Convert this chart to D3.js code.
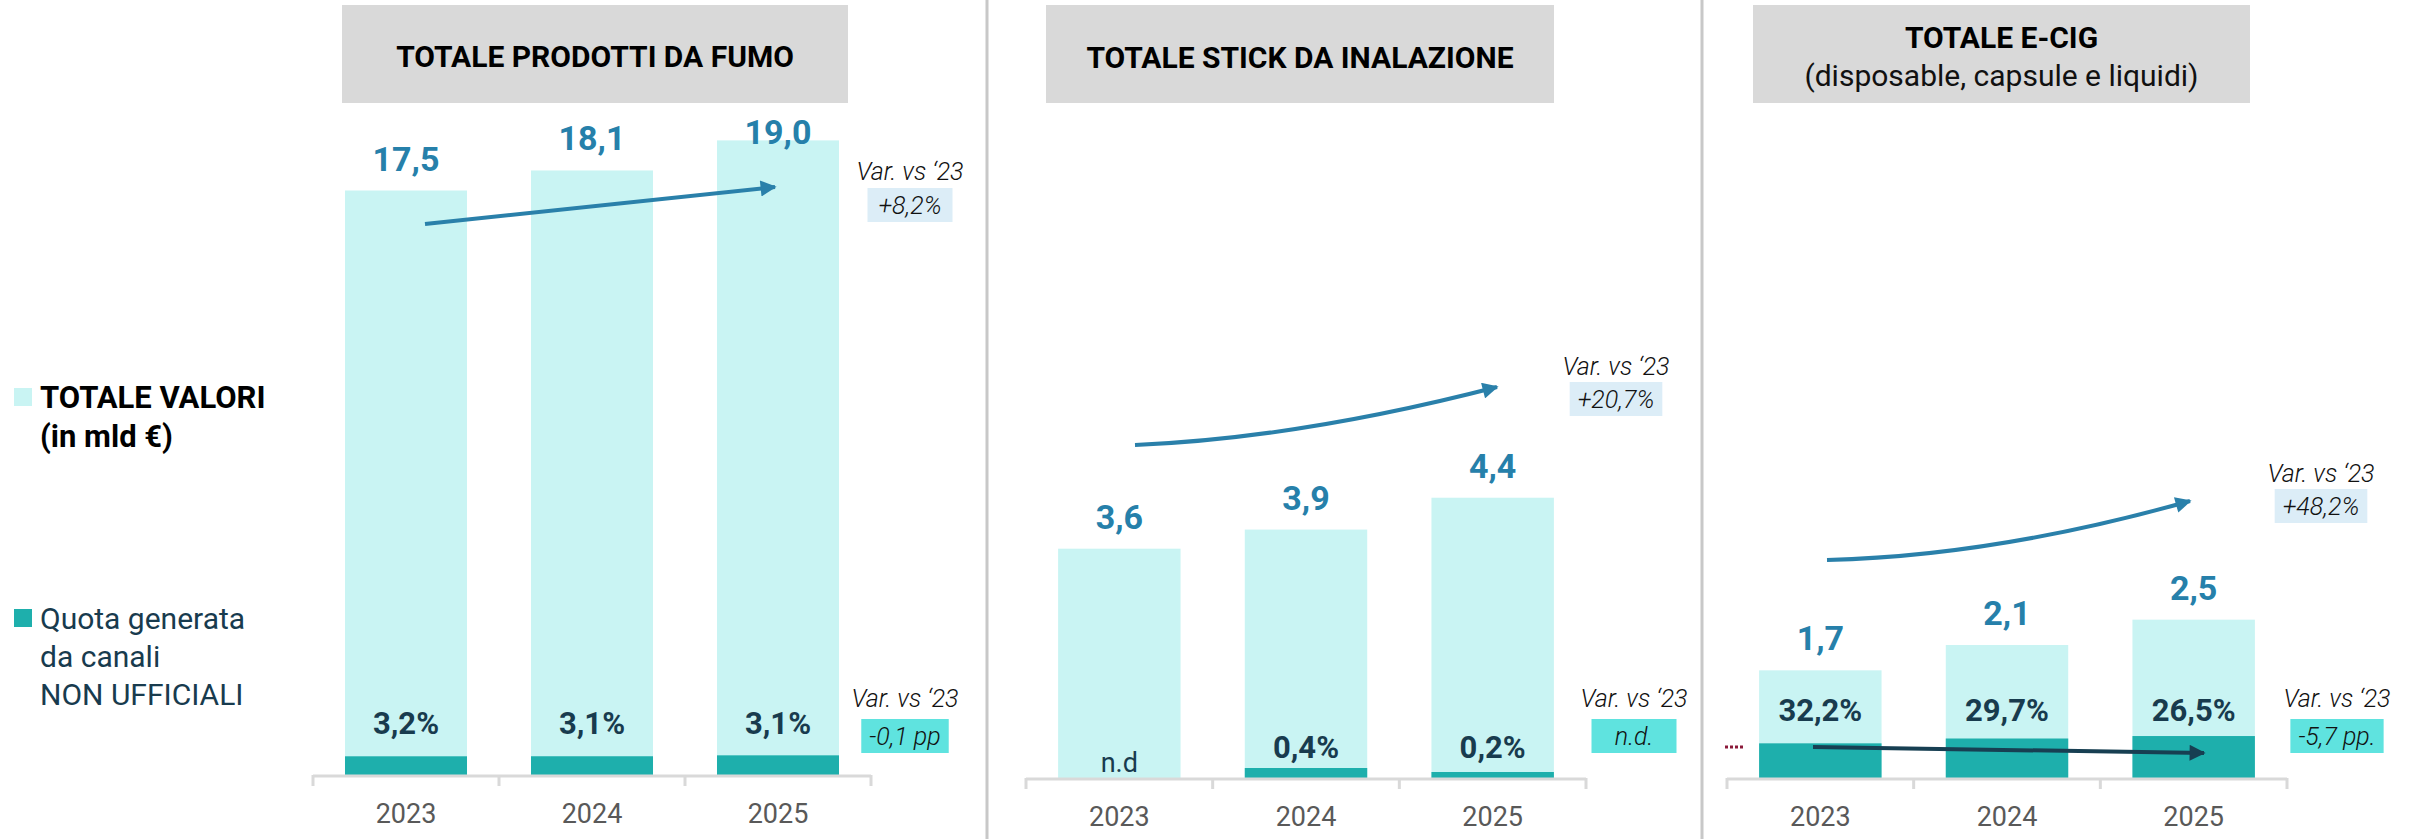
<!DOCTYPE html>
<html><head><meta charset="utf-8">
<script src="https://cdn.jsdelivr.net/npm/d3@7"></script>
<style>
html,body{margin:0;padding:0;background:#fff;}
svg{display:block;font-family:Roboto,"Noto Sans",sans-serif;}
</style></head><body>
<svg id="chart" width="2418" height="839"></svg>
<script>
// ---------------- DATA ----------------
const years = ["2023", "2024", "2025"];
const panelTitles = ["TOTALE PRODOTTI DA FUMO", "TOTALE STICK DA INALAZIONE", "TOTALE E-CIG"];
const panelSubtitles = ["", "", "(disposable, capsule e liquidi)"];
const smokeTotals = [17.5, 18.1, 19.0];
const smokeShares = [3.2, 3.1, 3.1];
const stickTotals = [3.6, 3.9, 4.4];
const stickShares = [null, 0.4, 0.2];
const ecigTotals = [1.7, 2.1, 2.5];
const ecigShares = [32.2, 29.7, 26.5];
const totalVarLabels = ["+8,2%", "+20,7%", "+48,2%"];
const shareVarLabels = ["-0,1 pp", "n.d.", "-5,7 pp."];
const varCaption = "Var. vs \u201823";
const notAvailable = "n.d";
const legendTotal = ["TOTALE VALORI", "(in mld \u20ac)"];
const legendShare = ["Quota generata", "da canali", "NON UFFICIALI"];

// ---------------- STYLE / LAYOUT ----------------
const C = {
  light: "#c9f4f3", dark: "#1eafac", value: "#2680aa", pct: "#183b4e",
  arrow: "#2a80aa", darkArrow: "#173f52", titleBox: "#d9d9d9",
  varLight: "#dcedf7", varTeal: "#5fe3df", axis: "#d9d9d9", year: "#595959", sep: "#c8c8c8"
};
const itLocale = d3.formatLocale({decimal: ",", thousands: ".", grouping: [3], currency: ["\u20ac", ""]});
const fmt1 = itLocale.format(".1f");

const panels = [
  { totals: smokeTotals, shares: smokeShares, xRange: [313, 871], base: 775, yDomain: [0, 20], yRange: [775, 107],
    titleBox: [342, 5, 506, 98], titleY: 67, pctY: 734, labelMinY: 144,
    arrow: {p0: [425, 224], p2: [775, 187]},
    topVar: {cx: 910, capY: 180, boxY: 188}, botVar: {cx: 905, capY: 707, boxY: 719, fill: C.varTeal} },
  { totals: stickTotals, shares: stickShares, xRange: [1026, 1586], base: 778, yDomain: [0, 5], yRange: [778, 459.5],
    titleBox: [1046, 5, 508, 98], titleY: 68, pctY: 758, labelMinY: 0,
    shareScale: d3.scaleLinear().domain([0, 0.4]).range([2, 10]),
    arrow: {p0: [1135, 445], p1: [1300, 438], p2: [1497, 387]},
    topVar: {cx: 1616, capY: 375, boxY: 382}, botVar: {cx: 1634, capY: 707, boxY: 719, fill: C.varTeal} },
  { totals: ecigTotals, shares: ecigShares, xRange: [1727, 2287], base: 778, yDomain: [0, 3], yRange: [778, 588],
    titleBox: [1753, 5, 497, 98], titleY: 48, subY: 86, pctY: 721, labelMinY: 0,
    arrow: {p0: [1827, 560], p1: [1995, 556], p2: [2190, 501]},
    darkArrow: {p0: [1813, 747], p2: [2204, 753]},
    topVar: {cx: 2321, capY: 482, boxY: 489}, botVar: {cx: 2337, capY: 707, boxY: 719, fill: C.varTeal} }
];

const svg = d3.select("#chart");
const defs = svg.append("defs");
function marker(id, color) {
  defs.append("marker").attr("id", id).attr("viewBox", "0 0 10 10")
    .attr("refX", 9).attr("refY", 5).attr("markerUnits", "userSpaceOnUse")
    .attr("markerWidth", 19).attr("markerHeight", 16).attr("orient", "auto")
    .append("path").attr("d", "M0,0 L10,5 L0,10 z").attr("fill", color);
}
marker("ahBlue", C.arrow);
marker("ahDark", C.darkArrow);

// separators
[987, 1702].forEach(x => svg.append("line").attr("x1", x).attr("x2", x).attr("y1", 0).attr("y2", 839)
  .attr("stroke", C.sep).attr("stroke-width", 3));

// legend
const lg = svg.append("g");
lg.append("rect").attr("x", 14).attr("y", 388).attr("width", 18).attr("height", 18).attr("fill", C.light);
legendTotal.forEach((t, i) => lg.append("text").attr("x", 40).attr("y", 408 + i * 39)
  .attr("font-size", 31).attr("font-weight", 700).attr("fill", "#000").text(t));
lg.append("rect").attr("x", 14).attr("y", 609).attr("width", 18).attr("height", 18).attr("fill", C.dark);
legendShare.forEach((t, i) => lg.append("text").attr("x", 40).attr("y", 629 + i * 38)
  .attr("font-size", 30).attr("font-weight", 400).attr("fill", C.pct).text(t));

panels.forEach((P, pi) => {
  const g = svg.append("g");
  const x = d3.scaleBand().domain(years).range(P.xRange).paddingInner(0.344).paddingOuter(0.172);
  const y = d3.scaleLinear().domain(P.yDomain).range(P.yRange);
  const rows = years.map((yr, i) => ({year: yr, total: P.totals[i], share: P.shares[i]}));

  // title box
  const [bx, by, bw, bh] = P.titleBox;
  g.append("rect").attr("x", bx).attr("y", by).attr("width", bw).attr("height", bh).attr("fill", C.titleBox);
  g.append("text").attr("x", bx + bw / 2).attr("y", P.titleY).attr("text-anchor", "middle")
    .attr("font-size", 30).attr("font-weight", 700).attr("fill", "#000").text(panelTitles[pi]);
  if (panelSubtitles[pi]) g.append("text").attr("x", bx + bw / 2).attr("y", P.subY).attr("text-anchor", "middle")
    .attr("font-size", 30).attr("font-weight", 400).attr("fill", "#111").text(panelSubtitles[pi]);

  // light bars (total)
  g.selectAll(".tot").data(rows).join("rect")
    .attr("x", d => x(d.year)).attr("width", x.bandwidth())
    .attr("y", d => y(d.total)).attr("height", d => y(0) - y(d.total)).attr("fill", C.light);

  // dark segments (share of non-official channels)
  g.selectAll(".shr").data(rows.filter(d => d.share != null)).join("rect")
    .attr("x", d => x(d.year)).attr("width", x.bandwidth())
    .attr("y", d => P.shareScale ? y(0) - P.shareScale(d.share) : y(d.total * d.share / 100))
    .attr("height", d => P.shareScale ? P.shareScale(d.share) : y(0) - y(d.total * d.share / 100))
    .attr("fill", C.dark);

  // axis
  const x0 = P.xRange[0], x1 = P.xRange[1];
  g.append("line").attr("x1", x0).attr("x2", x1).attr("y1", P.base + 1).attr("y2", P.base + 1)
    .attr("stroke", C.axis).attr("stroke-width", 3);
  d3.range(years.length + 1).forEach(i => {
    const tx = x0 + i * x.step();
    g.append("line").attr("x1", tx).attr("x2", tx).attr("y1", P.base).attr("y2", P.base + 11)
      .attr("stroke", C.axis).attr("stroke-width", 3);
  });
  const ax = g.append("g").attr("transform", `translate(0,${P.base})`)
    .call(d3.axisBottom(x).tickSize(0).tickPadding(29));
  ax.select(".domain").remove();
  ax.selectAll("text").attr("font-size", 27).attr("fill", C.year).attr("font-family", "Roboto");

  // value labels
  g.selectAll(".val").data(rows).join("text")
    .attr("x", d => x(d.year) + x.bandwidth() / 2)
    .attr("y", d => Math.max(y(d.total) - 20, P.labelMinY))
    .attr("text-anchor", "middle").attr("font-size", 34).attr("font-weight", 700)
    .attr("fill", C.value).text(d => fmt1(d.total));

  // share labels
  g.selectAll(".pct").data(rows).join("text")
    .attr("x", d => x(d.year) + x.bandwidth() / 2)
    .attr("y", d => d.share == null ? P.base - 6 : P.pctY)
    .attr("text-anchor", "middle")
    .attr("font-size", d => d.share == null ? 27 : 31)
    .attr("font-weight", d => d.share == null ? 400 : 700)
    .attr("fill", C.pct)
    .text(d => d.share == null ? notAvailable : fmt1(d.share) + "%");

  // trend arrow
  const A = P.arrow;
  const path = d3.path();
  path.moveTo(A.p0[0], A.p0[1]);
  if (A.p1) path.quadraticCurveTo(A.p1[0], A.p1[1], A.p2[0], A.p2[1]);
  else path.lineTo(A.p2[0], A.p2[1]);
  g.append("path").attr("d", path.toString()).attr("fill", "none").attr("stroke", C.arrow)
    .attr("stroke-width", 4).attr("marker-end", "url(#ahBlue)");

  if (P.darkArrow) {
    const D = P.darkArrow;
    g.append("line").attr("x1", D.p0[0]).attr("y1", D.p0[1]).attr("x2", D.p2[0]).attr("y2", D.p2[1])
      .attr("stroke", C.darkArrow).attr("stroke-width", 4).attr("marker-end", "url(#ahDark)");
    g.append("line").attr("x1", 1725).attr("x2", 1744).attr("y1", 747).attr("y2", 747)
      .attr("stroke", "#8b1a3a").attr("stroke-width", 3).attr("stroke-dasharray", "3,2");
  }

  // variation annotations
  function varBox(V, label, fill) {
    g.append("text").attr("x", V.cx).attr("y", V.capY).attr("text-anchor", "middle")
      .attr("font-size", 25).attr("font-style", "italic").attr("font-weight", 300).attr("fill", "#111").text(varCaption);
    const t = g.append("text").attr("x", V.cx).attr("y", V.boxY + 26).attr("text-anchor", "middle")
      .attr("font-size", 25).attr("font-style", "italic").attr("font-weight", 300).attr("fill", "#111").text(label);
    const w = Math.max(85, t.node().getComputedTextLength() + 16);
    g.insert("rect", () => t.node()).attr("x", V.cx - w / 2).attr("y", V.boxY).attr("width", w).attr("height", 34)
      .attr("fill", fill);
  }
  varBox(P.topVar, totalVarLabels[pi], C.varLight);
  varBox(P.botVar, shareVarLabels[pi], P.botVar.fill);
});
</script>
</body></html>
